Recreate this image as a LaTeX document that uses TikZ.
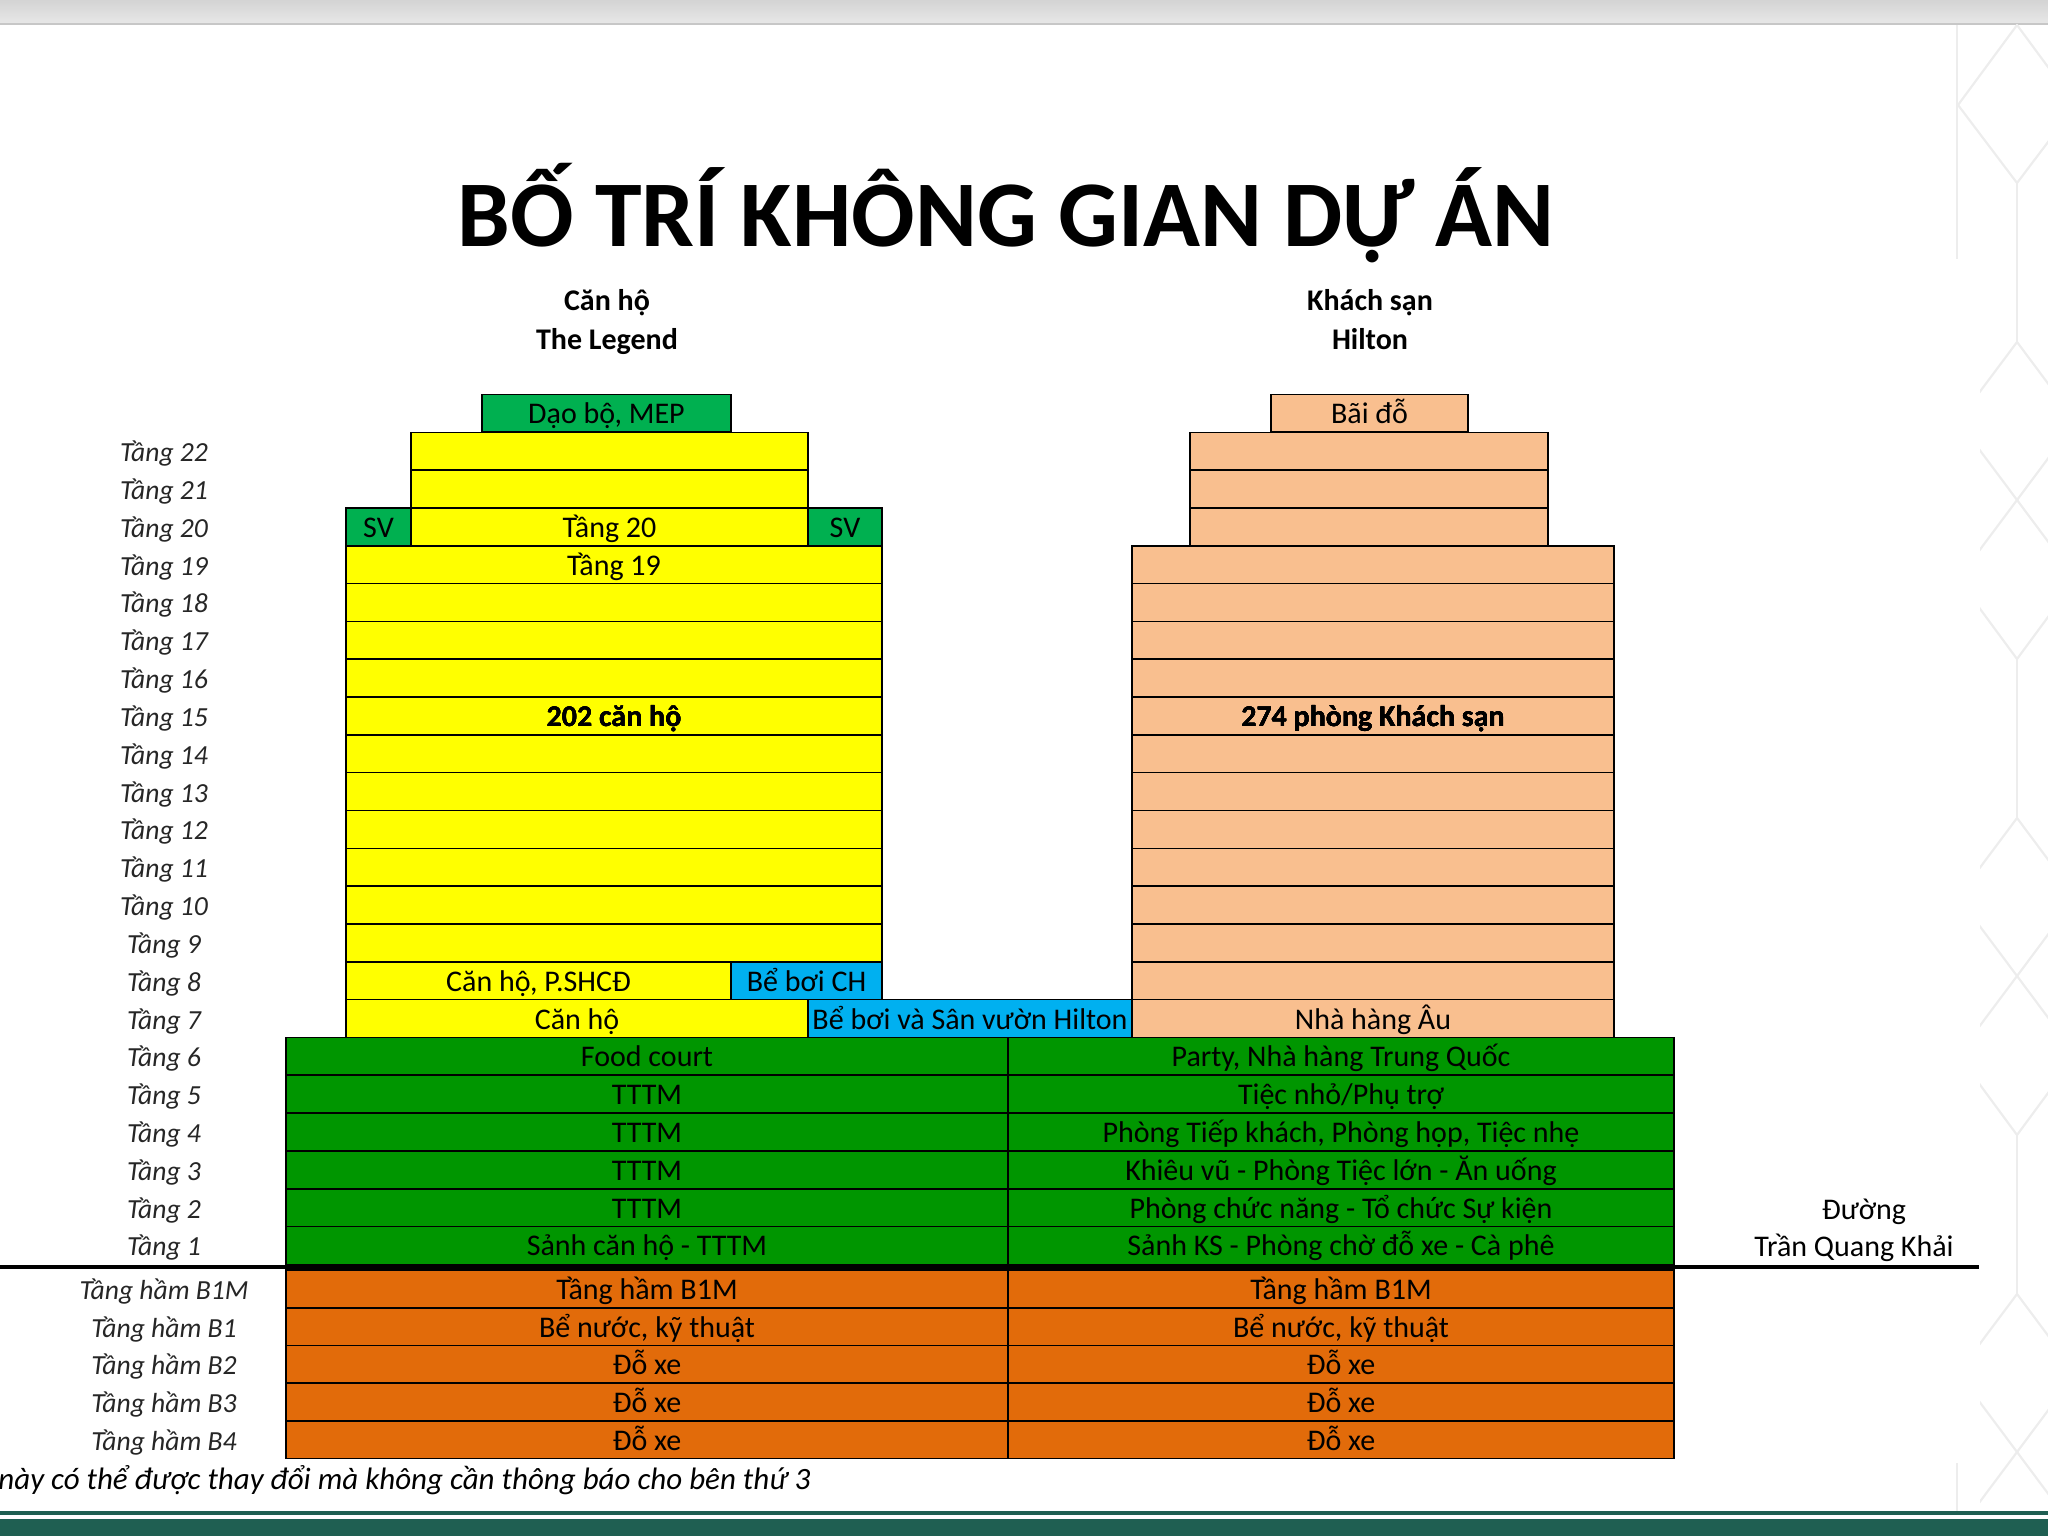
\documentclass[tikz,border=0pt]{standalone}
\usepackage{fontspec}
\setmainfont{Carlito}

\definecolor{vang}{HTML}{FFFF00}
\definecolor{xanhla}{HTML}{00B050}
\definecolor{xanhdam}{HTML}{009600}
\definecolor{dao}{HTML}{F9BF8F}
\definecolor{xanhduong}{HTML}{00B0F0}
\definecolor{cam}{HTML}{E26B0A}
\definecolor{nenxanh}{HTML}{1F5F52}

\tikzset{
  vien/.style={draw=black, line width=0.8pt},
  chu/.style={font=\fontsize{15}{18}\selectfont, anchor=base, inner sep=0pt},
  tang/.style={font=\fontsize{13.8}{16}\selectfont\itshape, text=black!85, anchor=base, inner sep=0pt},
  hoa/.style={draw=black!7, line width=1.1pt},
}

% y cua tang / tang ham (tinh tu tren xuong)
\pgfmathdeclarefunction{yt}{1}{\pgfmathparse{432.3+(22-#1)*37.82}}
\pgfmathdeclarefunction{yh}{1}{\pgfmathparse{1270+#1*37.7}}

% o: ten, x trai, x phai, y tren, mau, chu
\newcommand\khoi[6]{%
  \draw[vien, fill=#5] (#2,{#4}) rectangle (#3,{#4+37.8});
  \node[chu] (#1) at ({(#2+#3)/2},{#4+29.4}) {#6};}

\begin{document}
\begin{tikzpicture}[x=0.5pt, y=-0.5pt]
  \useasboundingbox (0,0) rectangle (2048,1536);

  % --- Nen: dai tren, dai duoi, hoa van ---
  \shade[top color=black!17, bottom color=black!9] (0,0) rectangle (2048,24);
  \draw[black!22, line width=1pt] (0,24.5) -- (2048,24.5);
  \fill[nenxanh] (0,1511) rectangle (2048,1514.5);
  \fill[nenxanh] (0,1519) rectangle (2048,1536);

  \begin{scope}
    \clip (0,25) rectangle (2048,1510);
    \draw[hoa] (2017,25) -- (1958,105) -- (2017,183) -- (2076,105) -- cycle;
    \draw[hoa] (1957,25) -- (1957,259);
    \draw[hoa] (1957,1463) -- (1957,1515);
    \begin{scope}
      \clip (1980,183) rectangle (2048,1536);
      \foreach \k in {0,1,2}{
        \draw[hoa] (2017,183+476*\k) -- (2017,342+476*\k);
        \draw[hoa] (2017,342+476*\k) -- (1958,421+476*\k) -- (2017,500+476*\k) -- (2076,421+476*\k) -- cycle;
        \draw[hoa] (2017,500+476*\k) -- (1958,579+476*\k) -- (2017,659+476*\k) -- (2076,579+476*\k) -- cycle;
      }
    \end{scope}
  \end{scope}

  % --- Tieu de ---
  \node[font=\fontsize{47}{56}\selectfont\bfseries, anchor=base, inner sep=0pt] (tieude) at (1006,246) {BỐ TRÍ KHÔNG GIAN DỰ ÁN};
  \node[chu] (canho) at (607,310) {\bfseries Căn hộ};
  \node[chu] (legend) at (607,349) {\bfseries The Legend};
  \node[chu] (khachsan) at (1370,310) {\bfseries Khách sạn};
  \node[chu] (hilton) at (1370,349) {\bfseries Hilton};

  % --- Nhan tang ---
  \foreach \f in {1,...,22}
    \node[tang] (t\f) at (164,{yt(\f)+29.4}) {Tầng \f};

  % --- Can ho The Legend ---
  \khoi{mep}{482}{731}{yt(23)}{xanhla}{Dạo bộ, MEP}
  \foreach \f in {21,22} \khoi{l\f}{411}{808}{yt(\f)}{vang}{}
  \khoi{sv1}{346}{411}{yt(20)}{xanhla}{SV}
  \khoi{l20}{411}{808}{yt(20)}{vang}{Tầng 20}
  \khoi{sv2}{808}{882}{yt(20)}{xanhla}{SV}
  \khoi{l19}{346}{882}{yt(19)}{vang}{Tầng 19}
  \foreach \f in {9,...,18} \khoi{l\f}{346}{882}{yt(\f)}{vang}{}
  \node[chu] (socanho) at (614,{yt(15)+29.4}) {\bfseries 202 căn hộ};
  \khoi{l8}{346}{731}{yt(8)}{vang}{Căn hộ, P.SHCĐ}
  \khoi{bech}{731}{882}{yt(8)}{xanhduong}{Bể bơi CH}
  \khoi{l7}{346}{808}{yt(7)}{vang}{Căn hộ}
  \khoi{behilton}{808}{1132}{yt(7)}{xanhduong}{Bể bơi và Sân vườn Hilton}

  % --- Khach san Hilton ---
  \khoi{baido}{1271}{1468}{yt(23)}{dao}{Bãi đỗ}
  \foreach \f in {20,21,22} \khoi{r\f}{1190}{1548}{yt(\f)}{dao}{}
  \foreach \f in {8,...,19} \khoi{r\f}{1132}{1614}{yt(\f)}{dao}{}
  \node[chu] (sophong) at (1373,{yt(15)+29.4}) {\bfseries 274 phòng Khách sạn};
  \khoi{r7}{1132}{1614}{yt(7)}{dao}{Nhà hàng Âu}

  % --- Khoi de ---
  \khoi{d6}{286}{1008}{yt(6)}{xanhdam}{Food court}
  \khoi{k6}{1008}{1674}{yt(6)}{xanhdam}{Party, Nhà hàng Trung Quốc}
  \khoi{d5}{286}{1008}{yt(5)}{xanhdam}{TTTM}
  \khoi{k5}{1008}{1674}{yt(5)}{xanhdam}{Tiệc nhỏ/Phụ trợ}
  \khoi{d4}{286}{1008}{yt(4)}{xanhdam}{TTTM}
  \khoi{k4}{1008}{1674}{yt(4)}{xanhdam}{Phòng Tiếp khách, Phòng họp, Tiệc nhẹ}
  \khoi{d3}{286}{1008}{yt(3)}{xanhdam}{TTTM}
  \khoi{k3}{1008}{1674}{yt(3)}{xanhdam}{Khiêu vũ - Phòng Tiệc lớn - Ăn uống}
  \khoi{d2}{286}{1008}{yt(2)}{xanhdam}{TTTM}
  \khoi{k2}{1008}{1674}{yt(2)}{xanhdam}{Phòng chức năng - Tổ chức Sự kiện}
  \khoi{d1}{286}{1008}{yt(1)}{xanhdam}{Sảnh căn hộ - TTTM}
  \khoi{k1}{1008}{1674}{yt(1)}{xanhdam}{Sảnh KS - Phòng chờ đỗ xe - Cà phê}

  % --- Tang ham ---
  \foreach \i/\b/\s in {0/B1M/Tầng hầm B1M,1/B1/{Bể nước, kỹ thuật},2/B2/Đỗ xe,3/B3/Đỗ xe,4/B4/Đỗ xe}{
    \node[tang] (h\b) at (164,{yh(\i)+29.4}) {Tầng hầm \b};
    \khoi{hd\b}{286}{1008}{yh(\i)}{cam}{\s}
    \khoi{hk\b}{1008}{1674}{yh(\i)}{cam}{\s}
  }

  % --- Mat dat, duong ---
  \coordinate (datA) at (0,1267);
  \coordinate (datB) at (1979,1267);
  \draw[line width=2pt] (datA) -- (datB);
  \node[chu] (duong) at (1864,1219) {Đường};
  \node[chu] (tenduong) at (1854,1256) {Trần Quang Khải};

  % --- Ghi chu ---
  \node[font=\fontsize{15.5}{18}\selectfont\itshape, anchor=base west, inner sep=0pt] (ghichu) at (-2,1489)
    {này có thể được thay đổi mà không cần thông báo cho bên thứ 3};

\end{tikzpicture}
\end{document}
